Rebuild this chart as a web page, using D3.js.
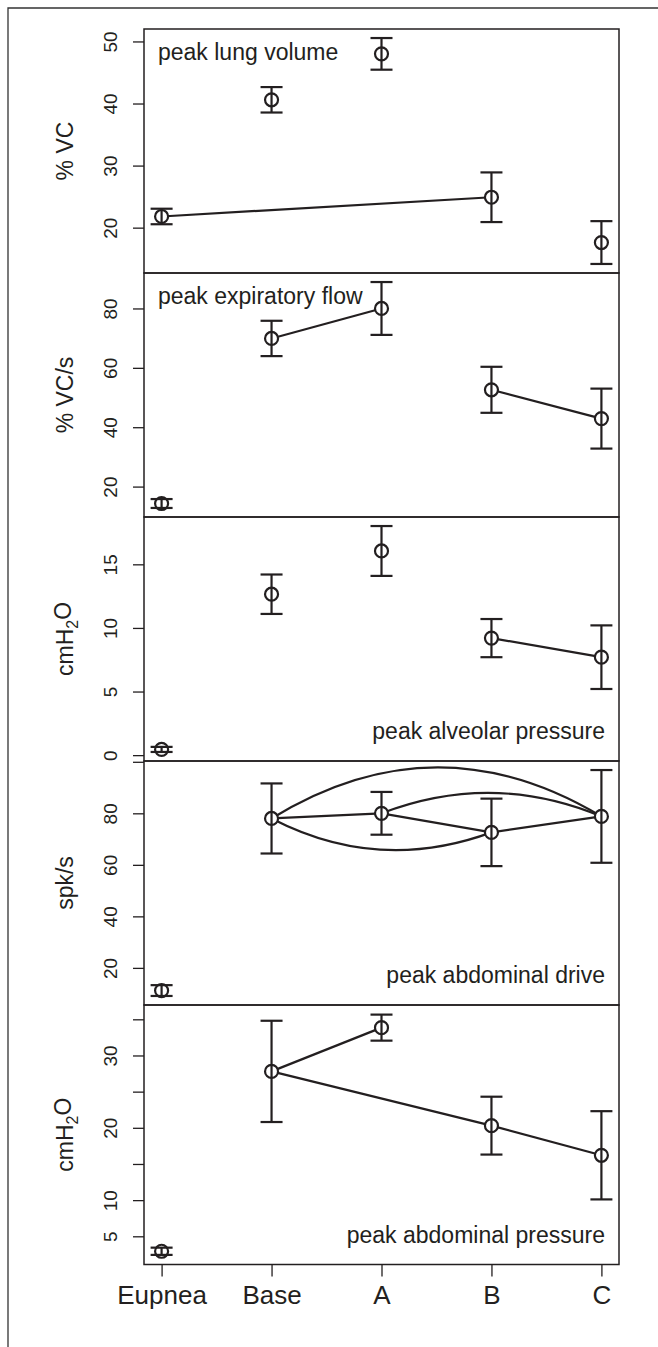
<!DOCTYPE html>
<html>
<head>
<meta charset="utf-8">
<script src="https://cdn.jsdelivr.net/npm/d3@7"></script>
<style>
  body { margin: 0; background: #fff; }
  text { font-family: "Liberation Sans", Arial, sans-serif; fill: #231f20; }
</style>
</head>
<body>
<svg id="chart" width="658" height="1347"></svg>
<script>
// Conditions on the x axis
const categories = ["Eupnea", "Base", "A", "B", "C"];

// Peak lung volume (% VC), mean and error
const lungVolMean = [21.8, 40.6, 48.0, 24.9, 17.6];
const lungVolErr = [1.25, 2.05, 2.55, 4.0, 3.45];

// Peak expiratory flow (% VC/s)
const expFlowMean = [14.3, 69.9, 80.0, 52.6, 42.9];
const expFlowErr = [1.5, 5.95, 8.9, 7.75, 10.1];

// Peak alveolar pressure (cmH2O)
const alvPresMean = [0.45, 12.65, 16.05, 9.2, 7.7];
const alvPresErr = [0.2, 1.55, 1.96, 1.5, 2.5];

// Peak abdominal drive (spk/s)
const abdDriveMean = [11.2, 78.0, 80.0, 72.6, 78.8];
const abdDriveErr = [2.1, 13.6, 8.3, 13.1, 18.0];

// Peak abdominal pressure (cmH2O)
const abdPresMean = [2.93, 27.8, 33.85, 20.3, 16.2];
const abdPresErr = [0.5, 7.0, 1.8, 4.0, 6.1];

// Which conditions are joined (index pairs)
const lungVolLinks = [[0, 3]];
const expFlowLinks = [[1, 2], [3, 4]];
const alvPresLinks = [[3, 4]];
const abdDriveLinks = [[1, 2], [2, 3], [3, 4]];
const abdDriveArcs = [[1, 4], [1, 3], [2, 4]];
const abdPresLinks = [[1, 2], [1, 3], [3, 4]];

// Tick values and the ones that get a label
const lungVolTicks = [20, 30, 40, 50];
const expFlowTicks = [20, 40, 60, 80];
const alvPresTicks = [0, 5, 10, 15];
const abdDriveTicks = [20, 40, 60, 80, 100];
const abdDriveLabels = [20, 40, 60, 80];
const abdPresTicks = [5, 10, 15, 20, 25, 30, 35];
const abdPresLabels = [5, 10, 20, 30];

// curvature of the arcs (sagitta / chord, + is upward)
const arcBend = [0.152, -0.11, 0.10];

const panels = [
  { unit: "% VC", title: "peak lung volume", mean: lungVolMean, err: lungVolErr, links: lungVolLinks, ticks: lungVolTicks, labels: lungVolTicks, top: 29, bottom: 273, corner: "topleft" },
  { unit: "% VC/s", title: "peak expiratory flow", mean: expFlowMean, err: expFlowErr, links: expFlowLinks, ticks: expFlowTicks, labels: expFlowTicks, top: 273, bottom: 517, corner: "topleft" },
  { unit: "cmH2O", title: "peak alveolar pressure", mean: alvPresMean, err: alvPresErr, links: alvPresLinks, ticks: alvPresTicks, labels: alvPresTicks, top: 517, bottom: 761, corner: "bottomright" },
  { unit: "spk/s", title: "peak abdominal drive", mean: abdDriveMean, err: abdDriveErr, links: abdDriveLinks, arcs: abdDriveArcs, ticks: abdDriveTicks, labels: abdDriveLabels, top: 761, bottom: 1005, corner: "bottomright" },
  { unit: "cmH2O", title: "peak abdominal pressure", mean: abdPresMean, err: abdPresErr, links: abdPresLinks, ticks: abdPresTicks, labels: abdPresLabels, top: 1005, bottom: 1264.5, corner: "bottomright" }
];

const svg = d3.select("#chart");
const left = 144, right = 619;
const ink = "#231f20";

// Outer frame (top and left only)
svg.append("path")
  .attr("d", "M658,8H8V1347")
  .attr("fill", "none")
  .attr("stroke", "#333")
  .attr("stroke-width", 1.3);

const x = d3.scalePoint().domain(categories).range([left, right]).padding(0.16);

panels.forEach((p, k) => {
  const lo = d3.min(p.mean, (m, i) => m - p.err[i]);
  const hi = d3.max(p.mean, (m, i) => m + p.err[i]);
  const pad = (hi - lo) * 0.04;
  const y = d3.scaleLinear().domain([lo - pad, hi + pad]).range([p.bottom, p.top]);

  const g = svg.append("g");
  const pts = categories.map((c, i) => ({ c, m: p.mean[i], e: p.err[i] }));

  // y axis
  const yAxis = g.append("g")
    .attr("transform", `translate(${left},0)`)
    .call(d3.axisLeft(y).tickValues(p.ticks).tickSize(11)
      .tickFormat(d => p.labels.includes(d) ? d : ""));
  yAxis.select(".domain").remove();
  yAxis.selectAll(".tick line").attr("stroke", ink).attr("stroke-width", 1.3);
  yAxis.selectAll(".tick text")
    .attr("x", null).attr("dy", null)
    .attr("transform", "translate(-27,0) rotate(-90)")
    .attr("text-anchor", "middle")
    .style("font-size", "19px")
    .style("font-family", "'Liberation Sans', Arial, sans-serif")
    .attr("fill", "#333");

  // y axis title
  const yt = g.append("text")
    .attr("transform", `translate(73,${(p.top + p.bottom) / 2}) rotate(-90)`)
    .attr("text-anchor", "middle")
    .style("font-size", "23px");
  if (p.unit === "cmH2O") {
    yt.append("tspan").text("cmH");
    yt.append("tspan").text("2").attr("dy", "0.3em").style("font-size", "16px");
    yt.append("tspan").text("O").attr("dy", "-0.3em");
  } else {
    yt.text(p.unit);
  }

  // straight connecting lines
  g.selectAll(".link")
    .data(p.links)
    .join("line")
    .attr("x1", d => x(categories[d[0]]))
    .attr("y1", d => y(p.mean[d[0]]))
    .attr("x2", d => x(categories[d[1]]))
    .attr("y2", d => y(p.mean[d[1]]))
    .attr("stroke", ink)
    .attr("stroke-width", 2.2);

  // curved connectors
  if (p.arcs) {
    g.selectAll(".arc")
      .data(p.arcs)
      .join("path")
      .attr("d", (d, i) => {
        const x0 = x(categories[d[0]]), y0 = y(p.mean[d[0]]);
        const x1 = x(categories[d[1]]), y1 = y(p.mean[d[1]]);
        const dx = x1 - x0, dy = y1 - y0;
        const len = Math.hypot(dx, dy);
        const s = arcBend[i] * len * 2;
        const cx = (x0 + x1) / 2 + dy / len * s;
        const cy = (y0 + y1) / 2 - dx / len * s;
        return `M${x0},${y0}Q${cx},${cy} ${x1},${y1}`;
      })
      .attr("fill", "none")
      .attr("stroke", ink)
      .attr("stroke-width", 2.2);
  }

  // points
  g.selectAll(".pt")
    .data(pts)
    .join("circle")
    .attr("cx", d => x(d.c))
    .attr("cy", d => y(d.m))
    .attr("r", 6.5)
    .attr("fill", "#fff")
    .attr("stroke", ink)
    .attr("stroke-width", 2.2);

  // error bars
  const eb = g.selectAll(".eb").data(pts).join("g");
  eb.append("line")
    .attr("x1", d => x(d.c)).attr("x2", d => x(d.c))
    .attr("y1", d => y(d.m - d.e)).attr("y2", d => y(d.m + d.e));
  eb.append("line")
    .attr("x1", d => x(d.c) - 11).attr("x2", d => x(d.c) + 11)
    .attr("y1", d => y(d.m + d.e)).attr("y2", d => y(d.m + d.e));
  eb.append("line")
    .attr("x1", d => x(d.c) - 11).attr("x2", d => x(d.c) + 11)
    .attr("y1", d => y(d.m - d.e)).attr("y2", d => y(d.m - d.e));
  eb.selectAll("line").attr("stroke", ink).attr("stroke-width", 2.2);

  // panel box
  g.append("rect")
    .attr("x", left).attr("y", p.top)
    .attr("width", right - left).attr("height", p.bottom - p.top)
    .attr("fill", "none")
    .attr("stroke", ink)
    .attr("stroke-width", 1.5);

  // panel title
  const tl = p.corner === "topleft";
  g.append("text")
    .attr("x", tl ? left + 14 : right - 14)
    .attr("y", tl ? p.top + 31 : p.bottom - 22)
    .attr("text-anchor", tl ? "start" : "end")
    .style("font-size", "23px")
    .text(p.title);

  // x axis on the last panel only
  if (k === panels.length - 1) {
    const xAxis = g.append("g")
      .attr("transform", `translate(0,${p.bottom})`)
      .call(d3.axisBottom(x).tickSize(12));
    xAxis.select(".domain").remove();
    xAxis.selectAll(".tick line").attr("stroke", ink).attr("stroke-width", 1.3);
    xAxis.selectAll(".tick text")
      .attr("y", 39).attr("dy", null)
      .style("font-size", "26px")
      .style("font-family", "'Liberation Sans', Arial, sans-serif")
      .attr("fill", ink);
  }
});
</script>
</body>
</html>
